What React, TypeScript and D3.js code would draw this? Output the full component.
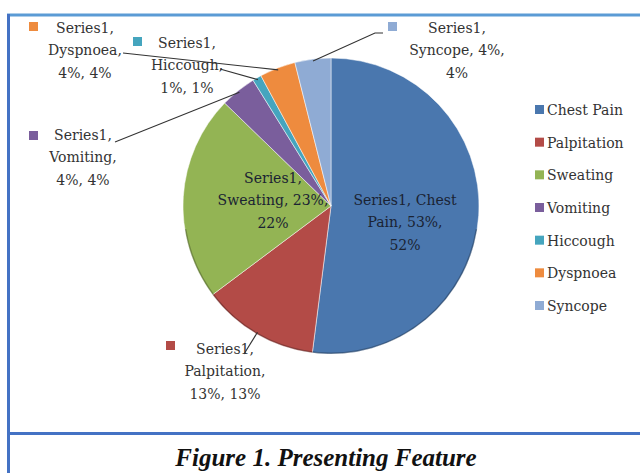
import React from "react";
import * as d3 from "d3";

const categories = ["Chest Pain", "Palpitation", "Sweating", "Vomiting", "Hiccough", "Dyspnoea", "Syncope"];
const values = [53, 13, 22.9, 4, 1, 4, 4];
const seriesName = "Series1";
const colors = ["#4A77AE", "#B34B47", "#93B454", "#7A5E9C", "#45A5BE", "#EE8B3E", "#8FABD4"];
const captionText = "Figure 1. Presenting Feature";

// label layout: how each data label wraps and where it sits
const labelLayout = [
  { x: 405, y: 205, breaks: [2, 4], inside: true, square: false },
  { x: 225, y: 354, breaks: [1, 2], inside: false, square: true, sq: [166, 341], from: [[244, 354]] },
  { x: 273, y: 183, breaks: [1, 3], inside: true, square: false },
  { x: 83, y: 140, breaks: [1, 2], inside: false, square: true, sq: [29, 131], from: [[115, 142]] },
  { x: 187, y: 48, breaks: [1, 2], inside: false, square: true, sq: [133, 37], from: [[220, 69]] },
  { x: 85, y: 33, breaks: [1, 2], inside: false, square: true, sq: [29, 22], from: [[123, 53]] },
  { x: 457, y: 33, breaks: [1, 3], inside: false, square: true, sq: [388, 22], from: [[383, 33], [375, 33]] },
];

const W = 640, H = 473;
const cx = 331, cy = 206, R = 148;
const font = "'DejaVu Serif', serif";

export default function App() {
  const total = d3.sum(values);
  const pie = d3.pie<number>().sort(null).value((d) => d)(values);
  const arc = d3.arc<d3.PieArcDatum<number>>().innerRadius(0).outerRadius(R);
  const edge = d3.arc<d3.PieArcDatum<number>>().innerRadius(R - 2).outerRadius(R - 2);
  const pctFmt = (v: number) => `${Math.round((v / total) * 100)}%`;
  const legendY = d3.scalePoint<string>().domain(categories).range([110, 306]);

  return (
    <svg width={W} height={H} style={{ position: "absolute", left: 0, top: 0, background: "#fff" }}>
      <rect x={0} y={0} width={W} height={H} fill="#fff" />
      {/* frame */}
      <line x1={7} x2={W} y1={15} y2={15} stroke="#5B9BD5" strokeWidth={3} />
      <line x1={8.5} x2={8.5} y1={14} y2={H} stroke="#4472C4" strokeWidth={3} />
      <line x1={8} x2={W} y1={433.5} y2={433.5} stroke="#4472C4" strokeWidth={3} />

      {/* pie */}
      <g transform={`translate(${cx},${cy})`}>
        {pie.map((p, i) => (
          <path key={i} d={arc(p) || ""} fill={colors[i]} stroke="#fff" strokeWidth={0.5} />
        ))}
        <path
          d={d3.arc()({ innerRadius: R - 1.5, outerRadius: R, startAngle: Math.PI * 0.55, endAngle: Math.PI * 1.45 }) || ""}
          fill="#000"
          opacity={0.25}
        />
      </g>

      {/* leader lines */}
      {pie.map((p, i) => {
        const L = labelLayout[i];
        if (L.inside || !L.from) return null;
        const [ex, ey] = edge.centroid(p);
        const pts = [...L.from, [cx + ex, cy + ey]];
        return (
          <path key={i} d={d3.line()(pts as [number, number][]) || ""} fill="none" stroke="#333" strokeWidth={1.1} />
        );
      })}

      {/* data labels */}
      {pie.map((p, i) => {
        const L = labelLayout[i];
        const words = [`${seriesName},`, ...categories[i].split(" ").map((w, k, a) => (k === a.length - 1 ? w + "," : w)), `${Math.round(values[i])}%,`, pctFmt(values[i])];
        const lines: string[] = [];
        let start = 0;
        for (const b of [...L.breaks, words.length]) {
          lines.push(words.slice(start, b).join(" "));
          start = b;
        }
        return (
          <g key={i}>
            {L.square && L.sq && <rect x={L.sq[0]} y={L.sq[1]} width={9} height={9} fill={colors[i]} />}
            <text x={L.x} y={L.y} textAnchor="middle" fontFamily={font} fontSize={14} fill={L.inside ? "#1a2333" : "#333"}>
              {lines.map((ln, k) => (
                <tspan key={k} x={L.x} dy={k === 0 ? 0 : 22.3}>
                  {ln}
                </tspan>
              ))}
            </text>
          </g>
        );
      })}

      {/* legend */}
      {categories.map((c, i) => (
        <g key={c} transform={`translate(535,${legendY(c)})`}>
          <rect x={0} y={-5} width={9} height={9} fill={colors[i]} />
          <text x={12} y={5} fontFamily={font} fontSize={14} fill="#333">
            {c}
          </text>
        </g>
      ))}

      {/* caption */}
      <text x={326} y={466} textAnchor="middle" fontFamily="'Liberation Serif', serif" fontStyle="italic" fontWeight="bold" fontSize={25} fill="#111">
        {captionText}
      </text>
    </svg>
  );
}
